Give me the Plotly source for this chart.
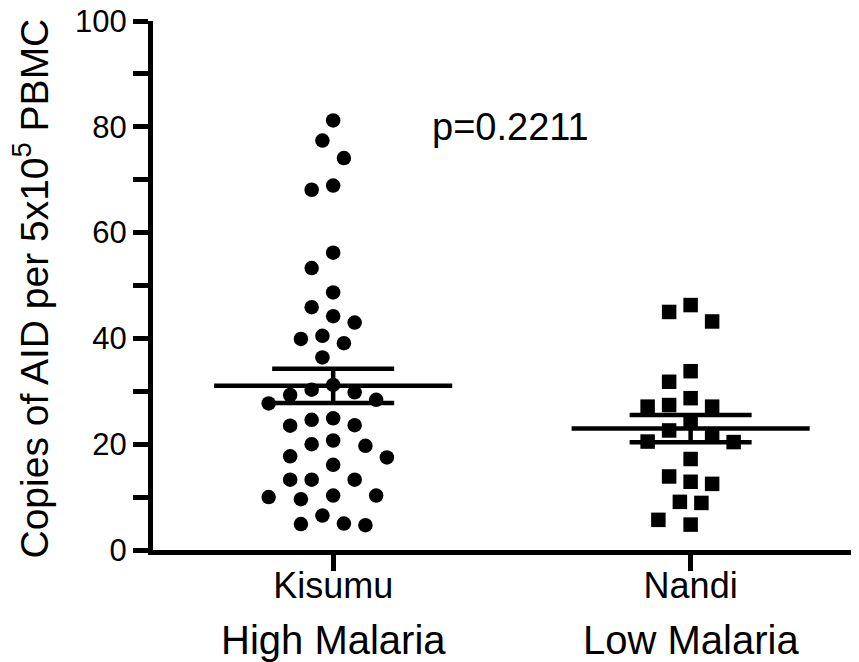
import numpy as np
import plotly.graph_objects as go

# ---- data ----
categories = ["Kisumu", "Nandi"]
category_sub = ["High Malaria", "Low Malaria"]
kisumu = [81.2, 77.4, 74.1, 68.9, 68.1, 56.2, 53.3, 48.7, 45.9, 44.2, 43.0, 40.5,
          39.9, 39.1, 36.4, 31.2, 30.3, 29.8, 29.3, 28.4, 27.7, 24.9, 24.6, 23.6,
          23.5, 20.7, 20.0, 19.7, 17.7, 17.5, 16.1, 13.3, 13.3, 13.3, 10.3, 10.3,
          10.0, 9.6, 6.5, 5.0, 4.9, 4.7]
nandi = [46.3, 45.0, 43.2, 33.8, 31.8, 28.7, 27.4, 27.1, 27.1, 24.3, 22.6, 21.7,
         20.5, 20.4, 17.2, 13.9, 12.9, 12.5, 9.1, 8.9, 5.7, 4.8]
p_text = "p=0.2211"
y_title = "Copies of AID per 5x10<sup>5</sup> PBMC"
y_ticks = [0, 20, 40, 60, 80, 100]
y_minor = [10, 30, 50, 70, 90]

# ---- layout geometry (page body has an 8px margin) ----
W, H = 851, 654
ML, MR, MT, MB = 145, 0, 13, 112
XR = [-0.504, 1.471]
YR = [0, 100]
px_per_x = (W - ML - MR) / (XR[1] - XR[0])
px_per_y = (H - MT - MB) / (YR[1] - YR[0])
FONT = "Liberation Sans, Arial, Helvetica, sans-serif"


def swarm(values, step=10.75, dmin=21.0):
    """Greedy beeswarm: horizontal offsets (in x units) so markers don't overlap."""
    placed = []
    offs = [0.0] * len(values)
    cands = [0]
    for j in range(1, 40):
        cands += [-j, j]
    order = sorted(range(len(values)), key=lambda i: -values[i])
    for i in order:
        y = values[i] * px_per_y
        x = 0.0
        for k in cands:
            x = k * step
            if all((x - a) ** 2 + (y - b) ** 2 >= dmin ** 2 for a, b in placed):
                break
        placed.append((x, y))
        offs[i] = x / px_per_x
    return offs


fig = go.Figure()
groups = [kisumu, nandi]
symbols = ["circle", "square"]
for i, vals in enumerate(groups):
    offs = swarm(vals)
    fig.add_trace(go.Scatter(
        x=[i + o for o in offs], y=vals, mode="markers",
        marker=dict(symbol=symbols[i], size=14.5, color="black", line=dict(width=0)),
        showlegend=False, hoverinfo="y"))
    arr = np.array(vals)
    m = float(arr.mean())
    sem = float(arr.std(ddof=1) / np.sqrt(len(arr)))
    fig.add_trace(go.Scatter(
        x=[i - 0.333, i + 0.333], y=[m, m], mode="lines",
        line=dict(color="black", width=4.5), showlegend=False, hoverinfo="skip"))
    fig.add_trace(go.Scatter(
        x=[i], y=[m], mode="markers", marker=dict(size=0.1, color="black"),
        error_y=dict(type="data", array=[sem], visible=True, color="black",
                     thickness=4.5, width=61),
        showlegend=False, hoverinfo="skip"))

# second line of the category labels
for i, s in enumerate(category_sub):
    fig.add_annotation(x=i, y=0, xref="x", yref="paper", text=s, showarrow=False,
                       yanchor="middle", yshift=-90,
                       font=dict(family=FONT, size=40, color="black"))

# y-axis title
fig.add_annotation(x=0, y=0.5, xref="paper", yref="paper", text=y_title,
                   showarrow=False, textangle=-90, xanchor="center",
                   yanchor="middle", xshift=-122, yshift=-3,
                   font=dict(family=FONT, size=39, color="black"))

fig.add_annotation(x=0.496, y=80, xref="x", yref="y", text=p_text, showarrow=False,
                   font=dict(family=FONT, size=38, color="black"))

fig.update_layout(
    width=W, height=H,
    margin=dict(l=ML, r=MR, t=MT, b=MB, autoexpand=False),
    paper_bgcolor="white", plot_bgcolor="white",
    font=dict(family=FONT, color="black"),
    xaxis=dict(range=XR, tickvals=[0, 1], ticktext=categories, ticks="outside",
               ticklen=16, tickwidth=5, tickcolor="black", showline=True,
               linewidth=5, linecolor="black", showgrid=False, zeroline=False,
               automargin=False, ticklabelstandoff=-16, ticklabeloverflow="allow",
               tickfont=dict(family=FONT, size=36, color="black")),
    yaxis=dict(range=YR, tickvals=y_ticks, ticks="outside", ticklen=15,
               tickwidth=5, tickcolor="black", showline=True, linewidth=5,
               linecolor="black", showgrid=False, zeroline=False,
               automargin=False, ticklabeloverflow="allow",
               tickfont=dict(family=FONT, size=31, color="black"),
               minor=dict(tickvals=y_minor, ticks="outside", ticklen=15,
                          tickwidth=5, tickcolor="black", showgrid=False)),
)

fig.write_html("out.html")
